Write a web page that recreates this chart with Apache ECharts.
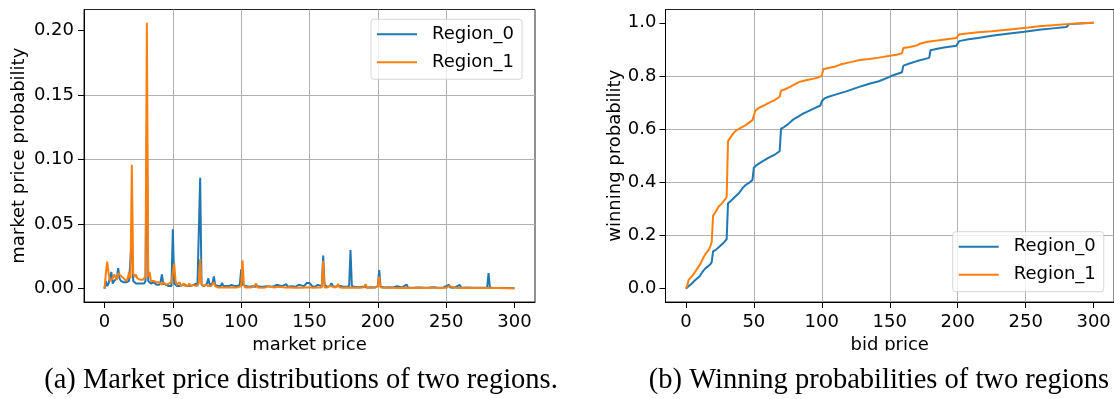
<!DOCTYPE html>
<html><head><meta charset="utf-8">
<script src="https://cdn.jsdelivr.net/npm/echarts@6/dist/echarts.min.js"></script>
<style>html,body{margin:0;padding:0;background:#fff}#c{width:1114px;height:399px}</style>
</head><body><div id="c"></div><script>
const seriesNames = ['Region_0', 'Region_1'];
const priceTicks = [0, 50, 100, 150, 200, 250, 300];
const probTicks = [0, 0.05, 0.10, 0.15, 0.20];
const winTicks = [0, 0.2, 0.4, 0.6, 0.8, 1.0];
const captionA = '(a) Market price distributions of two regions.';
const captionB = '(b) Winning probabilities of two regions';

// market price probability, Region_0 : [market price, probability]
const pmfRegion0 = [[0,0],[1,0.006],[2,0.002],[3,0.004],[4,0.005],[5,0.013],[6,0.004],[7,0.006],[8,0.005],[9,0.008],[10,0.016],[11,0.008],[12,0.006],[13,0.005],[14,0.005],[15,0.004],[16,0.005],[17,0.004],[18,0.006],[19,0.005],[20,0.04],[21,0.006],[22,0.005],[23,0.004],[24,0.005],[25,0.004],[26,0.005],[27,0.004],[28,0.005],[29,0.004],[30,0.006],[31,0.13],[32,0.006],[33,0.005],[34,0.004],[35,0.004],[36,0.005],[37,0.004],[38,0.003],[39,0.004],[40,0.003],[41,0.005],[42,0.011],[43,0.004],[44,0.003],[45,0.003],[46,0.004],[47,0.002],[48,0.003],[49,0.002],[50,0.046],[51,0.004],[52,0.003],[53,0.002],[54,0.003],[55,0.002],[56,0.002],[57,0.003],[58,0.002],[59,0.003],[60,0.002],[61,0.002],[62,0.003],[63,0.002],[64,0.002],[65,0.003],[66,0.002],[67,0.004],[68,0.002],[69,0.003],[70,0.086],[71,0.003],[72,0.002],[73,0.002],[74,0.003],[75,0.004],[76,0.008],[77,0.003],[78,0.002],[79,0.004],[80,0.0095],[81,0.003],[82,0.002],[83,0.002],[84,0.003],[85,0.002],[86,0.0045],[87,0.002],[88,0.002],[89,0.002],[90,0.003],[91,0.002],[92,0.002],[93,0.003],[94,0.002],[95,0.002],[96,0.002],[97,0.002],[98,0.002],[99,0.003],[100,0.015],[101,0.003],[102,0.002],[104,0.002],[106,0.0015],[108,0.002],[110,0.0015],[112,0.002],[114,0.0015],[115,0.0025],[116,0.0015],[119,0.002],[122,0.0015],[124,0.002],[126,0.003],[127,0.0015],[130,0.002],[133,0.0035],[134,0.0015],[137,0.002],[140,0.0015],[142,0.003],[143,0.0015],[146,0.002],[148,0.0045],[149,0.003],[150,0.0045],[151,0.004],[152,0.002],[154,0.0015],[156,0.003],[157,0.0015],[159,0.002],[160,0.0256],[161,0.003],[163,0.0015],[165,0.002],[166,0.0043],[167,0.002],[169,0.0015],[171,0.002],[173,0.002],[174,0.0033],[175,0.0015],[177,0.0015],[179,0.002],[180,0.030],[181,0.002],[183,0.0015],[186,0.0012],[189,0.0015],[192,0.001],[195,0.0012],[198,0.001],[200,0.002],[201,0.0145],[202,0.0015],[205,0.001],[208,0.0012],[211,0.001],[214,0.002],[215,0.001],[218,0.001],[221,0.0033],[222,0.001],[226,0.0008],[230,0.001],[234,0.0008],[238,0.001],[241,0.0012],[244,0.0008],[248,0.001],[252,0.003],[253,0.001],[256,0.0008],[260,0.0029],[261,0.0008],[265,0.001],[270,0.0008],[274,0.0008],[278,0.0007],[280,0.001],[281,0.012],[282,0.001],[285,0.0006],[290,0.0006],[295,0.0005],[300,0.0003]];

// market price probability, Region_1 : [market price, probability]
const pmfRegion1 = [[0,0],[1,0.012],[2,0.021],[3,0.012],[4,0.006],[5,0.005],[6,0.008],[7,0.011],[8,0.009],[9,0.007],[10,0.012],[11,0.011],[12,0.01],[13,0.009],[14,0.008],[15,0.007],[16,0.006],[17,0.008],[18,0.013],[19,0.008],[20,0.096],[21,0.012],[22,0.009],[23,0.011],[24,0.008],[25,0.009],[26,0.007],[27,0.006],[28,0.007],[29,0.008],[30,0.009],[31,0.206],[32,0.009],[33,0.013],[34,0.006],[35,0.007],[36,0.006],[37,0.006],[38,0.005],[39,0.004],[40,0.005],[41,0.004],[42,0.003],[43,0.005],[44,0.004],[45,0.003],[46,0.004],[47,0.004],[48,0.003],[49,0.005],[50,0.006],[51,0.0195],[52,0.006],[53,0.003],[54,0.004],[55,0.005],[56,0.002],[57,0.003],[58,0.004],[59,0.002],[60,0.003],[61,0.002],[62,0.004],[63,0.002],[64,0.002],[65,0.003],[66,0.002],[67,0.002],[68,0.003],[69,0.004],[70,0.023],[71,0.004],[72,0.002],[73,0.002],[74,0.003],[75,0.004],[76,0.002],[77,0.001],[78,0.002],[79,0.003],[80,0.005],[81,0.002],[82,0.001],[83,0.001],[84,0.0015],[86,0.001],[88,0.0012],[90,0.001],[92,0.0012],[94,0.001],[96,0.001],[98,0.0012],[99,0.001],[100,0.002],[101,0.022],[102,0.003],[103,0.001],[105,0.0012],[107,0.001],[109,0.0015],[110,0.002],[111,0.004],[112,0.001],[115,0.0008],[118,0.001],[120,0.002],[121,0.0008],[124,0.001],[128,0.0015],[129,0.0008],[132,0.001],[135,0.0012],[138,0.0008],[141,0.001],[144,0.0008],[147,0.001],[150,0.0012],[153,0.0008],[156,0.001],[159,0.001],[160,0.0215],[161,0.001],[163,0.001],[165,0.0022],[166,0.001],[168,0.001],[170,0.0015],[171,0.0037],[172,0.001],[175,0.0008],[178,0.001],[181,0.0008],[184,0.001],[187,0.0008],[190,0.0012],[191,0.0035],[192,0.001],[195,0.0008],[198,0.001],[200,0.002],[201,0.0093],[202,0.001],[205,0.0008],[210,0.0008],[215,0.0006],[220,0.0007],[225,0.0006],[230,0.0007],[235,0.0006],[240,0.0008],[241,0.002],[242,0.0007],[246,0.0006],[250,0.0007],[252,0.002],[253,0.0006],[258,0.0006],[264,0.0005],[270,0.0006],[276,0.0005],[282,0.0005],[288,0.0005],[294,0.0004],[300,0.0003]];

// winning probability, Region_0 : [bid price, probability]
const winRegion0 = [[0,0],[1,0.004],[2,0.009],[4,0.018],[6,0.028],[8,0.037],[10,0.046],[12,0.062],[14,0.075],[16,0.083],[18,0.092],[19,0.1],[20,0.14],[22,0.146],[25,0.16],[28,0.174],[30,0.186],[31,0.321],[33,0.33],[36,0.345],[39,0.359],[42,0.38],[44,0.39],[47,0.4],[49,0.409],[50,0.455],[52,0.465],[56,0.478],[60,0.49],[65,0.503],[69,0.517],[70,0.602],[72,0.607],[75,0.618],[78,0.632],[80,0.64],[83,0.648],[86,0.658],[89,0.665],[94,0.677],[99,0.689],[100,0.705],[102,0.716],[105,0.722],[110,0.73],[118,0.742],[127,0.758],[135,0.771],[142,0.78],[149,0.795],[152,0.802],[159,0.814],[160,0.839],[165,0.848],[170,0.856],[179,0.868],[180,0.897],[185,0.902],[190,0.907],[199,0.914],[201,0.931],[208,0.938],[215,0.943],[225,0.951],[235,0.958],[249,0.966],[260,0.974],[270,0.979],[280,0.984],[281,0.985],[282,0.995],[290,0.997],[300,1.0]];

// winning probability, Region_1 : [bid price, probability]
const winRegion1 = [[0,0],[1,0.012],[2,0.033],[3,0.04],[5,0.05],[7,0.065],[9,0.08],[11,0.097],[13,0.118],[15,0.135],[17,0.148],[18,0.16],[19,0.175],[20,0.275],[22,0.29],[24,0.308],[26,0.318],[28,0.33],[30,0.345],[31,0.555],[33,0.57],[35,0.585],[37,0.595],[40,0.604],[44,0.615],[49,0.634],[50,0.64],[51,0.668],[53,0.678],[57,0.688],[61,0.699],[65,0.708],[69,0.722],[70,0.745],[73,0.75],[77,0.76],[80,0.768],[83,0.777],[86,0.781],[90,0.786],[95,0.791],[100,0.8],[101,0.825],[104,0.829],[110,0.836],[115,0.845],[122,0.853],[128,0.86],[135,0.864],[142,0.869],[150,0.876],[155,0.88],[159,0.885],[160,0.905],[165,0.909],[170,0.915],[172,0.921],[178,0.929],[185,0.933],[192,0.938],[199,0.943],[201,0.956],[205,0.959],[215,0.964],[225,0.968],[240,0.976],[252,0.982],[260,0.987],[270,0.991],[280,0.995],[290,0.998],[300,1.0]];

const FONT = 'DejaVu Sans';
const COLORS = ['#1f77b4', '#ff7f0e'];
const txt = {fontFamily: FONT, fontSize: 18, color: '#000'};

function xAxisCfg(gridIndex, name) {
  return {
    type: 'value', gridIndex, min: -15, max: 315, name, nameLocation: 'middle', nameGap: 33,
    nameTextStyle: txt,
    axisLine: {show: true, onZero: false, lineStyle: {color: '#000', width: 1}},
    axisTick: {show: true, length: 6, customValues: priceTicks, lineStyle: {color: '#000', width: 1}},
    axisLabel: Object.assign({customValues: priceTicks, margin: 11}, txt),
    splitLine: {show: true, showMinLine: false, showMaxLine: false, lineStyle: {color: '#b0b0b0', width: 1}}
  };
}
function yAxisCfg(gridIndex, name, min, max, ticks, digits, gap, margin) {
  return {
    type: 'value', gridIndex, min, max, name, nameLocation: 'middle', nameGap: gap,
    nameTextStyle: txt,
    axisLine: {show: true, onZero: false, lineStyle: {color: '#000', width: 1}},
    axisTick: {show: true, length: 6, customValues: ticks, lineStyle: {color: '#000', width: 1}},
    axisLabel: Object.assign({customValues: ticks, margin, formatter: v => Number(v).toFixed(digits)}, txt),
    splitLine: {show: true, showMinLine: false, showMaxLine: false, lineStyle: {color: '#b0b0b0', width: 1}}
  };
}
function legendCfg(left, top) {
  return {
    orient: 'vertical', left, top, data: seriesNames, icon: 'rect', itemWidth: 40, itemHeight: 2, itemGap: 10,
    padding: [6, 8, 8, 6], backgroundColor: 'rgba(255,255,255,0.8)',
    borderColor: 'rgba(204,204,204,0.8)', borderWidth: 1, borderRadius: 3,
    textStyle: Object.assign({padding: [0, 0, 0, 10]}, txt)
  };
}
function lineSeries(name, data, idx, colorIdx) {
  return {
    type: 'line', name, data, xAxisIndex: idx, yAxisIndex: idx, symbol: 'none', showSymbol: false,
    lineStyle: {width: 2, color: COLORS[colorIdx]}, itemStyle: {color: COLORS[colorIdx]},
    animation: false
  };
}

const chart = echarts.init(document.getElementById('c'), null, {renderer: 'canvas'});
chart.setOption({
  animation: false,
  backgroundColor: '#fff',
  grid: [
    {left: 84, top: 9.5, width: 451, height: 292.5, show: true, borderColor: '#222', borderWidth: 1, backgroundColor: 'transparent'},
    {left: 665.5, top: 9.5, width: 451, height: 292.5, show: true, borderColor: '#222', borderWidth: 1, backgroundColor: 'transparent'}
  ],
  xAxis: [xAxisCfg(0, 'market price'), xAxisCfg(1, 'bid price')],
  yAxis: [
    yAxisCfg(0, 'market price probability', -0.0103, 0.2163, probTicks, 2, 56, 10),
    yAxisCfg(1, 'winning probability', -0.05, 1.05, winTicks, 1, 41.5, 9)
  ],
  legend: [legendCfg(371, 19.3), legendCfg(952.7, 231.7)],
  series: [
    lineSeries(seriesNames[0], pmfRegion0, 0, 0),
    lineSeries(seriesNames[1], pmfRegion1, 0, 1),
    lineSeries(seriesNames[0], winRegion0, 1, 0),
    lineSeries(seriesNames[1], winRegion1, 1, 1)
  ],
  graphic: [
    {type: 'rect', silent: true, z: 100, shape: {x: 0, y: 350.5, width: 1114, height: 17}, style: {fill: '#fff'}},
    {type: 'text', silent: true, z: 101, x: 301, y: 380.5, style: {text: captionA, font: '28.5px "Liberation Serif"', fill: '#000', align: 'center', verticalAlign: 'middle'}},
    {type: 'text', silent: true, z: 101, x: 879, y: 380.5, style: {text: captionB, font: '28.5px "Liberation Serif"', fill: '#000', align: 'center', verticalAlign: 'middle'}}
  ]
});
</script></body></html>
